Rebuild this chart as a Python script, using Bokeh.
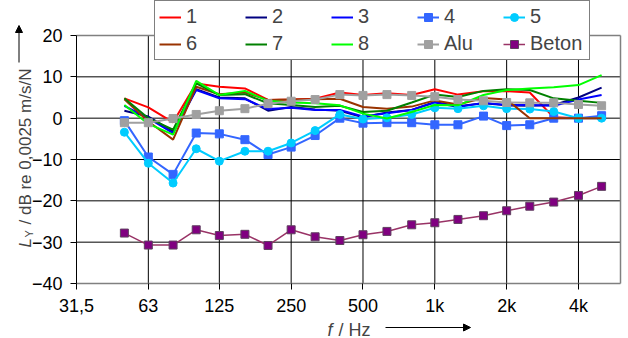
import math
from bokeh.plotting import figure
from bokeh.models import FixedTicker, Legend, LegendItem, Label, Arrow, NormalHead, Range1d
from bokeh.embed import file_html
from bokeh.resources import INLINE

freq = [50, 63, 80, 100, 125, 160, 200, 250, 315, 400, 500, 630, 800, 1000, 1250, 1600, 2000, 2500, 3150, 4000, 5000]

s1 = [4.8, 2.6, -1.0, 8.4, 7.6, 7.2, 4.4, 4.5, 4.7, 6.2, 5.6, 6.0, 5.6, 7.0, 5.7, 6.5, 6.5, 6.2, 0.2, 0.0, 0.0]
s2 = [1.8, 0.4, -3.2, 7.0, 5.0, 4.8, 1.8, 2.7, 2.1, 1.8, 0.2, 1.4, 2.0, 3.9, 2.9, 3.6, 3.1, 3.0, 3.2, 5.0, 7.4]
s3 = [3.0, 0.0, -3.6, 6.8, 4.8, 4.6, 2.2, 2.5, 2.0, 2.0, 0.4, 1.2, 2.0, 3.8, 2.7, 3.7, 3.2, 3.2, 3.0, 4.5, 5.6]
s4 = [-0.6, -9.4, -13.6, -3.6, -3.8, -5.2, -8.8, -7.0, -4.2, 0.0, -1.2, -1.1, -1.1, -1.6, -1.6, 0.5, -1.8, -1.6, 0.0, 0.0, 0.6]
s5 = [-3.4, -10.9, -15.7, -7.4, -10.4, -8.0, -8.0, -6.0, -3.0, 0.9, -0.2, 0.1, 0.9, 2.5, 2.3, 3.0, 2.3, 2.2, 1.6, 0.0, 0.0]
s6 = [4.6, -0.8, -5.2, 7.6, 5.8, 6.2, 4.4, 4.5, 4.6, 4.7, 2.7, 2.3, 2.8, 4.3, 3.3, 4.9, 4.5, 0.0, 0.0, 0.0, 0.0]
s7 = [4.8, 0.0, -2.8, 8.4, 5.6, 5.8, 3.6, 3.2, 2.7, 3.0, 1.5, 1.8, 3.8, 5.7, 5.1, 6.6, 7.0, 6.8, 4.8, 4.2, 3.7]
s8 = [3.2, -1.4, -4.0, 9.0, 5.6, 6.6, 4.2, 3.8, 3.6, 3.1, 1.1, -0.1, 1.5, 3.2, 3.1, 5.6, 6.8, 7.2, 7.5, 8.0, 10.4]
alu = [-1.1, -1.1, -0.1, 0.9, 1.8, 2.3, 3.5, 4.1, 4.5, 5.7, 5.5, 5.7, 5.5, 5.2, 4.5, 4.2, 3.8, 3.7, 3.7, 3.3, 3.0]
beton = [-27.8, -30.7, -30.7, -27.0, -28.4, -28.1, -30.8, -27.0, -28.7, -29.6, -28.2, -27.4, -25.8, -25.3,
         -24.5, -23.6, -22.4, -21.3, -20.3, -18.7, -16.5]

x_ticks = [31.5, 63, 125, 250, 500, 1000, 2000, 4000]
x_tick_labels = ["31,5", "63", "125", "250", "500", "1k", "2k", "4k"]
y_ticks = [-40, -30, -20, -10, 0, 10, 20]

FONT = "Liberation Sans"

# canvas and plot-area box (pixels); the frame covers the whole canvas so that
# titles, legend and arrows outside the plot area are not clipped
W, H = 626, 336
PL, PR, PT, PB = 76, 620, 35, 283
XMIN, XMAX = 31.5, 6000
YMIN, YMAX = -40, 20
lx0, lx1 = math.log10(XMIN), math.log10(XMAX)
kx = (lx1 - lx0) / (PR - PL)
ky = (YMAX - YMIN) / (PB - PT)
x_range = Range1d(10 ** (lx0 - PL * kx), 10 ** (lx1 + (W - PR) * kx))
y_range = Range1d(YMIN - (H - PB) * ky, YMAX + PT * ky)

p = figure(width=W, height=H, x_axis_type="log", x_range=x_range, y_range=y_range,
           output_backend="svg", toolbar_location=None,
           min_border=0, min_border_left=0, min_border_right=0, min_border_top=0, min_border_bottom=0)
p.background_fill_color = "white"
p.border_fill_color = "white"
p.outline_line_color = None
p.xgrid.visible = False
p.ygrid.visible = False

# grid lines and plot-area border
gx = x_ticks[1:]
p.segment(x0=gx, y0=[YMIN] * len(gx), x1=gx, y1=[YMAX] * len(gx), line_color="black", line_width=1)
gy = y_ticks[1:-1]
p.segment(x0=[XMIN] * len(gy), y0=gy, x1=[XMAX] * len(gy), y1=gy, line_color="black", line_width=1)
p.segment(x0=[XMIN, XMAX], y0=[YMAX, YMIN], x1=[XMAX, XMAX], y1=[YMAX, YMAX],
          line_color="#808080", line_width=1.5)

# axes placed at the plot-area edges
p.xaxis.fixed_location = YMIN
p.yaxis.fixed_location = XMIN
p.xaxis.bounds = (XMIN, XMAX)
p.yaxis.bounds = (YMIN, YMAX)
p.xaxis.ticker = FixedTicker(ticks=x_ticks)
p.xaxis.major_label_overrides = {t: l for t, l in zip(x_ticks, x_tick_labels)}
p.yaxis.ticker = FixedTicker(ticks=y_ticks)
for ax in (p.xaxis[0], p.yaxis[0]):
    ax.major_label_text_font = FONT
    ax.major_label_text_font_size = "18px"
    ax.major_label_text_color = "black"
    ax.major_tick_line_color = "black"
    ax.major_tick_in = 0
    ax.major_tick_out = 6
    ax.minor_tick_line_color = None
    ax.axis_label = None
p.xaxis.axis_line_color = "#808080"
p.xaxis.axis_line_width = 1.5
p.xaxis.major_label_standoff = 6
p.yaxis.axis_line_color = "black"
p.yaxis.major_label_standoff = 8

series = [
    ("1", s1, "#FF0000", None),
    ("2", s2, "#000080", None),
    ("3", s3, "#0000FF", None),
    ("4", s4, "#3366FF", "square"),
    ("5", s5, "#00CCFF", "circle"),
    ("6", s6, "#993300", None),
    ("7", s7, "#008000", None),
    ("8", s8, "#00FF00", None),
    ("Alu", alu, "#A0A0A0", "square"),
]

items = []
for name, ys, col, mk in series:
    rs = [p.line(freq, ys, line_color=col, line_width=2)]
    if mk:
        rs.append(p.scatter(freq, ys, marker=mk, size=8, fill_color=col, line_color=col))
    items.append(LegendItem(label=name, renderers=rs))

rb1 = p.line(freq, beton, line_color="#993366", line_width=1.5)
rb2 = p.scatter(freq, beton, marker="square", size=8, fill_color="#800080", line_color="#604060")
items.append(LegendItem(label="Beton", renderers=[rb1, rb2]))

legend = Legend(items=items, location=(154, 276), orientation="horizontal", ncols=5,
                label_text_font=FONT, label_text_font_size="20px",
                glyph_width=22, glyph_height=20, label_height=20, label_standoff=5,
                label_width=55, spacing=4, padding=4, margin=0,
                border_line_color="black", border_line_width=1,
                background_fill_color="white", background_fill_alpha=1)
p.add_layout(legend)

# axis titles (screen units, measured from the canvas bottom-left)
p.add_layout(Label(x=327, y=7, x_units="screen", y_units="screen", text="f",
                   text_font=FONT, text_font_size="18px", text_font_style="italic",
                   text_baseline="alphabetic", text_align="left"))
p.add_layout(Label(x=338, y=7, x_units="screen", y_units="screen", text="/ Hz",
                   text_font=FONT, text_font_size="18px",
                   text_baseline="alphabetic", text_align="left"))
p.add_layout(Arrow(x_start=385, y_start=9, x_end=470, y_end=9,
                   start_units="screen", end_units="screen", line_width=1, line_color="black",
                   end=NormalHead(size=7, fill_color="black", line_color="black")))

p.add_layout(Label(x=25, y=89, x_units="screen", y_units="screen", text="L", angle=math.pi / 2,
                   text_font=FONT, text_font_size="17px", text_font_style="italic",
                   text_baseline="alphabetic", text_align="left"))
p.add_layout(Label(x=28, y=99, x_units="screen", y_units="screen", text="Y", angle=math.pi / 2,
                   text_font=FONT, text_font_size="11px",
                   text_baseline="alphabetic", text_align="left"))
p.add_layout(Label(x=25, y=112, x_units="screen", y_units="screen", text="/ dB re 0,0025 m/s/N",
                   angle=math.pi / 2, text_font=FONT, text_font_size="17px",
                   text_baseline="alphabetic", text_align="left"))
p.add_layout(Arrow(x_start=18.5, y_start=274, x_end=18.5, y_end=311,
                   start_units="screen", end_units="screen", line_width=1, line_color="black",
                   end=NormalHead(size=7, fill_color="black", line_color="black")))

open("out.html", "w").write(file_html(p, INLINE))
